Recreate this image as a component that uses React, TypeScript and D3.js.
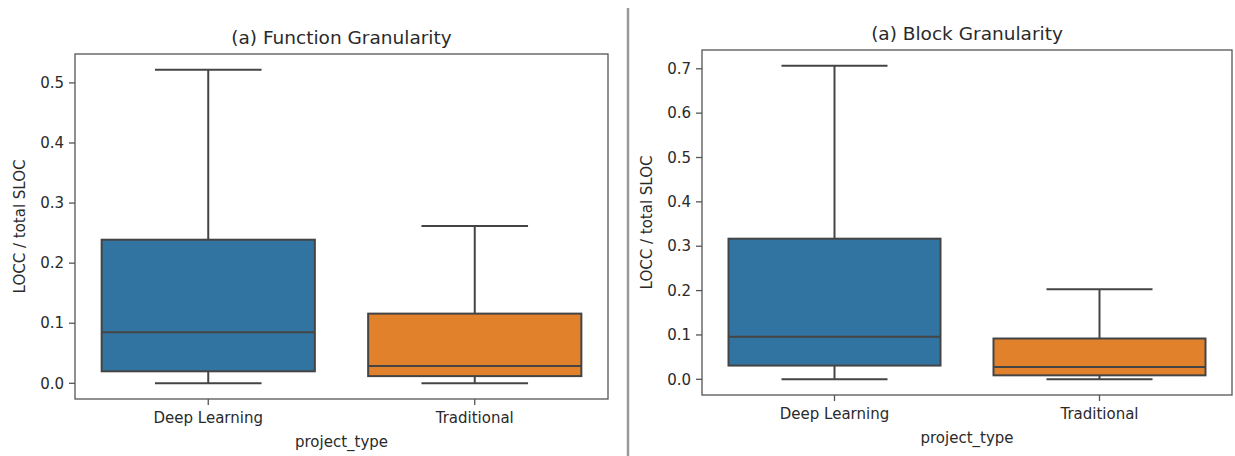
import * as d3 from "d3";

// box stats: [whiskerLow, q1, median, q3, whiskerHigh]
const categories = ["Deep Learning", "Traditional"];
const colors = ["#3274a1", "#e1812c"];

const functionStats = [
  [0.0, 0.02, 0.085, 0.239, 0.522],
  [0.0, 0.012, 0.029, 0.116, 0.262],
];
const blockStats = [
  [0.0, 0.031, 0.096, 0.317, 0.707],
  [0.0, 0.009, 0.028, 0.092, 0.203],
];

const functionTicks = [0, 0.1, 0.2, 0.3, 0.4, 0.5];
const blockTicks = [0, 0.1, 0.2, 0.3, 0.4, 0.5, 0.6, 0.7];

const FONT = "DejaVu Sans, sans-serif";
const LINE = "#444444";
const TEXT = "#2a2a2a";

type PanelProps = {
  title: string;
  stats: number[][];
  ticks: number[];
  x0: number;
  x1: number;
  y0: number;
  y1: number;
  titleY: number;
};

function Panel({ title, stats, ticks, x0, x1, y0, y1, titleY }: PanelProps) {
  const lo = d3.min(stats, (s) => s[0]) ?? 0;
  const hi = d3.max(stats, (s) => s[4]) ?? 1;
  const pad = (hi - lo) * 0.05;
  const y = d3.scaleLinear().domain([lo - pad, hi + pad]).range([y1, y0]);
  const x = d3.scaleBand().domain(categories).range([x0, x1]);
  const boxW = x.bandwidth() * 0.8;
  const cx = (x0 + x1) / 2;
  const cy = (y0 + y1) / 2;

  return (
    <g fontFamily={FONT}>
      <text x={cx} y={titleY} textAnchor="middle" fontSize={18.5} fill={TEXT}>
        {title}
      </text>

      {stats.map((s, i) => {
        const c = x(categories[i])! + x.bandwidth() / 2;
        return (
          <g key={categories[i]}>
            <line x1={c} x2={c} y1={y(s[0])} y2={y(s[1])} stroke={LINE} strokeWidth={2} />
            <line x1={c} x2={c} y1={y(s[3])} y2={y(s[4])} stroke={LINE} strokeWidth={2} />
            <line x1={c - boxW / 4} x2={c + boxW / 4} y1={y(s[0])} y2={y(s[0])} stroke={LINE} strokeWidth={2} />
            <line x1={c - boxW / 4} x2={c + boxW / 4} y1={y(s[4])} y2={y(s[4])} stroke={LINE} strokeWidth={2} />
            <rect
              x={c - boxW / 2}
              width={boxW}
              y={y(s[3])}
              height={y(s[1]) - y(s[3])}
              fill={colors[i]}
              stroke={LINE}
              strokeWidth={2}
            />
            <line x1={c - boxW / 2} x2={c + boxW / 2} y1={y(s[2])} y2={y(s[2])} stroke={LINE} strokeWidth={2} />
          </g>
        );
      })}

      <rect x={x0} y={y0} width={x1 - x0} height={y1 - y0} fill="none" stroke="#555" strokeWidth={1.3} />

      {ticks.map((t) => (
        <g key={t}>
          <line x1={x0 - 6} x2={x0} y1={y(t)} y2={y(t)} stroke="#555" strokeWidth={1.3} />
          <text x={x0 - 11} y={y(t)} dy="0.35em" textAnchor="end" fontSize={15} fill={TEXT}>
            {t.toFixed(1)}
          </text>
        </g>
      ))}

      {categories.map((c) => {
        const px = x(c)! + x.bandwidth() / 2;
        return (
          <g key={c}>
            <line x1={px} x2={px} y1={y1} y2={y1 + 6} stroke="#555" strokeWidth={1.3} />
            <text x={px} y={y1 + 24} textAnchor="middle" fontSize={15} fill={TEXT}>
              {c}
            </text>
          </g>
        );
      })}

      <text x={cx} y={y1 + 48} textAnchor="middle" fontSize={15} fill={TEXT}>
        project_type
      </text>
      <text
        transform={`translate(${x0 - 55},${cy}) rotate(-90)`}
        textAnchor="middle"
        dy="0.35em"
        fontSize={15}
        fill={TEXT}
      >
        LOCC / total SLOC
      </text>
    </g>
  );
}

export default function App() {
  return (
    <svg width={1235} height={456} style={{ position: "absolute", left: 0, top: 0, background: "#fff" }}>
      <rect width={1235} height={456} fill="#fff" />
      <Panel
        title="(a) Function Granularity"
        stats={functionStats}
        ticks={functionTicks}
        x0={75}
        x1={608}
        y0={54}
        y1={399}
        titleY={44}
      />
      <line x1={628} x2={628} y1={8} y2={456} stroke="#999" strokeWidth={2.5} />
      <Panel
        title="(a) Block Granularity"
        stats={blockStats}
        ticks={blockTicks}
        x0={702}
        x1={1232}
        y0={50}
        y1={395}
        titleY={40}
      />
    </svg>
  );
}
